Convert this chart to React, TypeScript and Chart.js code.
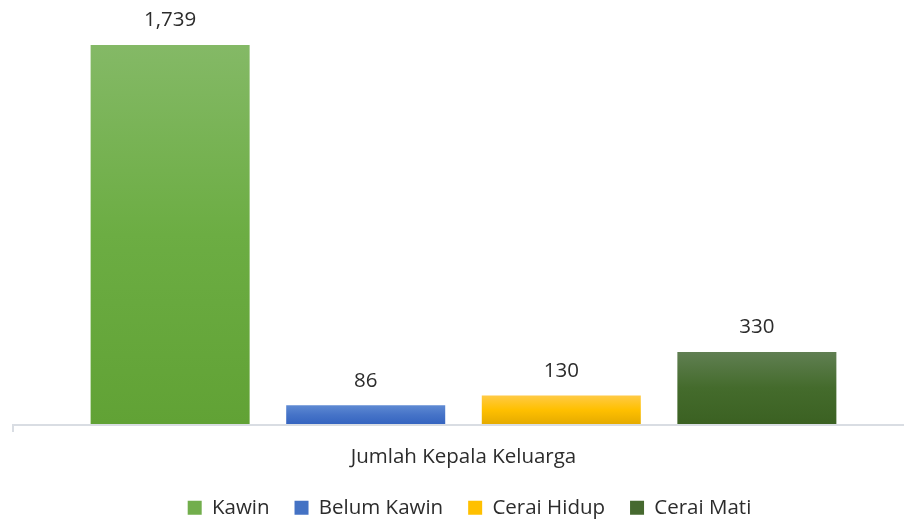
import React, { useEffect, useRef } from "react";
import { Chart, registerables } from "chart.js";

Chart.register(...registerables);

const categories = ["Jumlah Kepala Keluarga"];
const seriesNames = ["Kawin", "Belum Kawin", "Cerai Hidup", "Cerai Mati"];
const seriesValues = [[1739], [86], [130], [330]];
const seriesGradients = [
  ["#84b966", "#6cad43", "#61a235"],
  ["#5f8ad3", "#4674c8", "#3564c0"],
  ["#ffca45", "#ffc000", "#e5ab00"],
  ["#607f52", "#446b2c", "#3b6122"],
];
const legendColors = ["#72ae4c", "#4472c4", "#ffc000", "#46692f"];

const FONT = "'Open Sans', 'Noto Sans', sans-serif";
const FONT_SIZE = 20.5;
const TEXT = "#2c2c2c";

const labelsPlugin = {
  id: "barLabels",
  afterDatasetsDraw(chart: any) {
    const ctx = chart.ctx;
    ctx.save();
    ctx.font = `${FONT_SIZE}px ${FONT}`;
    ctx.fillStyle = TEXT;
    ctx.textAlign = "center";
    ctx.textBaseline = "middle";
    chart.data.datasets.forEach((ds: any, i: number) => {
      const meta = chart.getDatasetMeta(i);
      meta.data.forEach((el: any, j: number) => {
        const v = ds.data[j];
        ctx.fillText(Number(v).toLocaleString("en-US"), el.x, el.y - 24.5);
      });
    });
    ctx.restore();
  },
};

const axisLinePlugin = {
  id: "axisLine",
  afterLayout(chart: any) {
    if (chart.legend) {
      chart.legend.left += 6;
      chart.legend.right += 6;
    }
  },
  afterDatasetsDraw(chart: any) {
    const { ctx, chartArea } = chart;
    ctx.save();
    ctx.strokeStyle = "#d9dde3";
    ctx.lineWidth = 2;
    ctx.beginPath();
    ctx.moveTo(12, chartArea.bottom + 1);
    ctx.lineTo(chart.width, chartArea.bottom + 1);
    ctx.moveTo(13, chartArea.bottom);
    ctx.lineTo(13, chartArea.bottom + 8);
    ctx.stroke();
    ctx.restore();
  },
};

export default function App() {
  const ref = useRef<HTMLCanvasElement | null>(null);

  useEffect(() => {
    document.body.style.margin = "0";
    const canvas = ref.current;
    if (!canvas) return;
    const chart = new Chart(canvas, {
      type: "bar",
      data: {
        labels: categories,
        datasets: seriesNames.map((name, i) => ({
          label: name,
          data: seriesValues[i],
          backgroundColor: (c: any) => {
            const chartObj = c.chart;
            const y = chartObj.scales && chartObj.scales.y;
            if (!y || !chartObj.chartArea || c.raw === undefined) return seriesGradients[i][1];
            const top = y.getPixelForValue(c.raw);
            const bottom = y.getPixelForValue(0);
            const g = chartObj.ctx.createLinearGradient(0, top, 0, bottom);
            g.addColorStop(0, seriesGradients[i][0]);
            g.addColorStop(0.5, seriesGradients[i][1]);
            g.addColorStop(1, seriesGradients[i][2]);
            return g;
          },
          borderWidth: 0,
          barPercentage: 0.813,
          categoryPercentage: 0.888,
        })),
      },
      options: {
        responsive: false,
        animation: false,
        layout: { padding: { top: 10, left: 23, right: 0, bottom: -6 } },
        scales: {
          y: { display: false, min: 0, max: 1900 },
          x: {
            display: true,
            grid: { display: false, drawTicks: false },
            border: { display: false },
            ticks: { display: false },
            title: {
              display: true,
              text: categories[0],
              color: TEXT,
              font: { family: FONT, size: FONT_SIZE },
              padding: { top: 21, bottom: 3 },
            },
          },
        },
        plugins: {
          legend: {
            position: "bottom",
            labels: {
              boxWidth: 14,
              boxHeight: 14,
              padding: 25,
              color: TEXT,
              font: { family: FONT, size: FONT_SIZE },
              generateLabels: (ch: any) =>
                seriesNames.map((n, i) => ({
                  text: n,
                  fillStyle: legendColors[i],
                  strokeStyle: legendColors[i],
                  lineWidth: 0,
                  hidden: !ch.isDatasetVisible(i),
                  datasetIndex: i,
                  fontColor: TEXT,
                })),
            },
          },
          tooltip: { enabled: false },
        },
      },
      plugins: [axisLinePlugin, labelsPlugin],
    });
    return () => chart.destroy();
  }, []);

  return (
    <div style={{ width: 904, height: 522 }}>
      <canvas ref={ref} width={904} height={522} />
    </div>
  );
}
